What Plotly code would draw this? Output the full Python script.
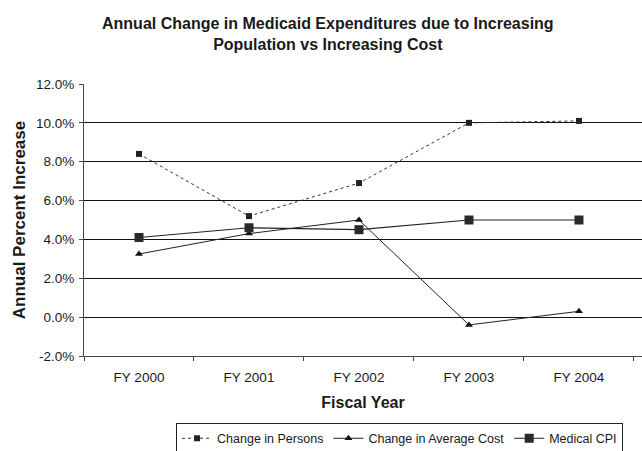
import plotly.graph_objects as go

# Fiscal years on the category axis
years = ["FY 2000", "FY 2001", "FY 2002", "FY 2003", "FY 2004"]

# Annual percent increase for each series
persons = [8.4, 5.2, 6.9, 10.0, 10.1]
avg_cost = [3.25, 4.3, 5.0, -0.4, 0.3]
medical_cpi = [4.1, 4.6, 4.5, 5.0, 5.0]

y_ticks = [-2, 0, 2, 4, 6, 8, 10, 12]
grid_ticks = [0, 2, 4, 6, 8, 10]

FONT = "Liberation Sans, Arial, sans-serif"
INK = "#1a1a1a"

fig = go.Figure()

# invisible companion trace so the grid axis is laid out
fig.add_trace(go.Scatter(x=years, y=medical_cpi, yaxis="y2", mode="lines",
                         line=dict(width=0), showlegend=False, hoverinfo="skip"))

fig.add_trace(go.Scatter(
    x=years, y=persons, name="Change in Persons", mode="lines+markers",
    line=dict(color="#333333", width=1, dash="dot"),
    marker=dict(symbol="square", size=6, color="#222222"),
))
fig.add_trace(go.Scatter(
    x=years, y=avg_cost, name="Change in Average Cost", mode="lines+markers",
    line=dict(color="#222222", width=1),
    marker=dict(symbol="triangle-up", size=7, color="#111111"),
))
fig.add_trace(go.Scatter(
    x=years, y=medical_cpi, name="Medical CPI", mode="lines+markers",
    line=dict(color="#222222", width=1.2),
    marker=dict(symbol="square", size=9, color="#2a2a2a"),
))

fig.update_layout(
    width=642, height=451,
    margin=dict(l=84, r=0, t=84, b=95, autoexpand=False),
    paper_bgcolor="white", plot_bgcolor="white",
    font=dict(family=FONT, color=INK, size=13),
    xaxis=dict(
        type="category", range=[-0.5, 4.573],
        showgrid=False, showline=True, linecolor="#444444", linewidth=1,
        ticks="outside", ticklen=4, tickcolor="#444444",
        tickson="boundaries", ticklabelstandoff=9,
        tickfont=dict(size=13.5, family=FONT, color=INK),
        title=dict(text="<b>Fiscal Year</b>", font=dict(size=16, family=FONT, color=INK), standoff=12),
    ),
    yaxis=dict(
        range=[-2, 12], tickvals=y_ticks,
        ticktext=[f"{v:.1f}%" for v in y_ticks],
        showgrid=False, zeroline=False,
        showline=True, linecolor="#444444", linewidth=1,
        ticks="outside", ticklen=4, tickcolor="#444444",
        ticklabelstandoff=2,
        tickfont=dict(size=13.5, family=FONT, color=INK),
        title=dict(text="<b>Annual Percent Increase</b>", font=dict(size=17, family=FONT, color=INK), standoff=6),
    ),
    yaxis2=dict(
        overlaying="y", matches="y", range=[-2, 12], tickvals=grid_ticks,
        showgrid=True, gridcolor="#111111", gridwidth=1,
        showticklabels=False, ticks="", zeroline=False, showline=False,
    ),
    legend=dict(
        orientation="h", x=0.165, xanchor="left", y=-0.245, yanchor="top",
        xref="paper", yref="paper",
        bordercolor="#222222", borderwidth=1, bgcolor="white",
        font=dict(size=12.5, family=FONT, color=INK),
        itemwidth=30, tracegroupgap=0,
    ),
    annotations=[dict(
        text="<b>Annual Change in Medicaid Expenditures due to Increasing<br>Population vs Increasing Cost</b>",
        xref="paper", yref="paper", x=0.437, y=1.262, xanchor="center", yanchor="top",
        showarrow=False, align="center",
        font=dict(size=16, family=FONT, color=INK),
    )],
)

fig.write_html("out.html")
